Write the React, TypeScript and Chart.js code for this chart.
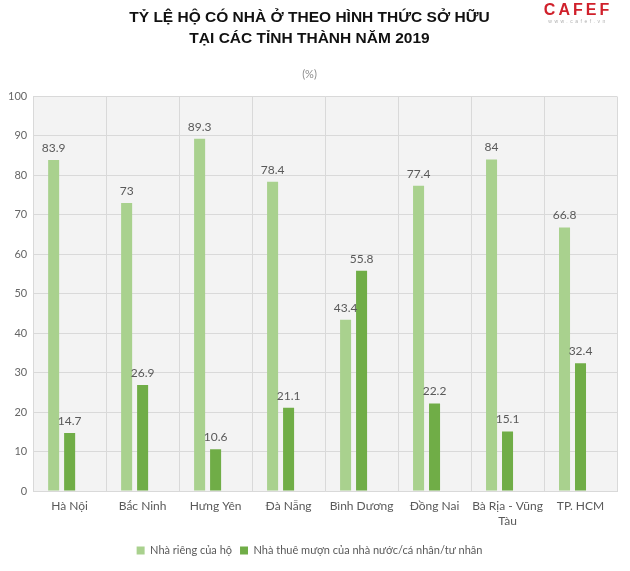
import React, { useEffect, useRef } from "react";
import { Chart, registerables } from "chart.js";

Chart.register(...registerables);

const categories: (string | string[])[] = [
  "Hà Nội",
  "Bắc Ninh",
  "Hưng Yên",
  "Đà Nẵng",
  "Bình Dương",
  "Đồng Nai",
  ["Bà Rịa - Vũng", "Tàu"],
  "TP. HCM",
];
const ownHouse = [83.9, 73, 89.3, 78.4, 43.4, 77.4, 84, 66.8];
const rented = [14.7, 26.9, 10.6, 21.1, 55.8, 22.2, 15.1, 32.4];
const emptySeries = [null, null, null, null, null, null, null, null];

const seriesNames = [
  "Nhà riêng của hộ",
  "Nhà thuê mượn của nhà nước/cá nhân/tư nhân",
];
const titleLines = [
  "TỶ LỆ HỘ CÓ NHÀ Ở THEO HÌNH THỨC SỞ HỮU",
  "TẠI CÁC TỈNH THÀNH NĂM 2019",
];
const unitLabel = "(%)";

const LIGHT = "#a9d18e";
const DARK = "#70ad47";
const GREY = "#595959";
const FONT = "Lato, 'Liberation Sans', sans-serif";

const plotBg = {
  id: "plotBg",
  beforeDraw(chart: any) {
    const { ctx, chartArea } = chart;
    if (!chartArea) return;
    ctx.save();
    ctx.fillStyle = "#f3f3f3";
    ctx.fillRect(
      chartArea.left,
      chartArea.top,
      chartArea.right - chartArea.left,
      chartArea.bottom - chartArea.top
    );
    ctx.restore();
  },
};

const valueLabels = {
  id: "valueLabels",
  afterDatasetsDraw(chart: any) {
    const { ctx } = chart;
    ctx.save();
    ctx.font = `12px ${FONT}`;
    ctx.fillStyle = GREY;
    ctx.textAlign = "center";
    ctx.textBaseline = "bottom";
    [0, 1].forEach((di) => {
      const meta = chart.getDatasetMeta(di);
      const data = chart.data.datasets[di].data;
      meta.data.forEach((bar: any, i: number) => {
        const v = data[i];
        if (v == null) return;
        ctx.fillText(String(v), bar.x, bar.y - 6);
      });
    });
    ctx.restore();
  },
};

export default function App() {
  const ref = useRef<HTMLCanvasElement>(null);

  useEffect(() => {
    if (!ref.current) return;
    const chart = new Chart(ref.current, {
      type: "bar",
      data: {
        labels: categories,
        datasets: [
          {
            label: seriesNames[0],
            data: ownHouse,
            backgroundColor: LIGHT,
            categoryPercentage: 0.657,
            barPercentage: 0.69,
          },
          {
            label: seriesNames[1],
            data: rented,
            backgroundColor: DARK,
            categoryPercentage: 0.657,
            barPercentage: 0.69,
          },
          {
            label: "",
            data: emptySeries as any,
            backgroundColor: "rgba(0,0,0,0)",
            categoryPercentage: 0.657,
            barPercentage: 0.69,
          },
        ],
      },
      options: {
        animation: false,
        responsive: false,
        maintainAspectRatio: false,
        layout: { padding: { left: 2, right: 13, top: 0, bottom: 5 } },
        plugins: {
          title: {
            display: true,
            text: titleLines,
            color: "#111111",
            font: { family: "'Liberation Sans', Arial, sans-serif", size: 15.5, weight: "bold", lineHeight: 1.3 },
            padding: { top: 8, bottom: 20 },
          },
          subtitle: {
            display: true,
            text: unitLabel,
            color: "#8c8c8c",
            font: { family: FONT, size: 11 },
            padding: { top: 0, bottom: 15 },
          },
          legend: {
            position: "bottom",
            labels: {
              boxWidth: 8,
              boxHeight: 8,
              color: GREY,
              font: { family: FONT, size: 11 },
              padding: 8,
              filter: (item: any) => item.text !== "",
            },
          },
          tooltip: { enabled: false },
        },
        scales: {
          x: {
            grid: { color: "#d9d9d9", drawTicks: false, offset: true },
            border: { color: "#d9d9d9" },
            ticks: {
              color: GREY,
              font: { family: FONT, size: 12, lineHeight: 1.25 },
              padding: 8,
              maxRotation: 0,
              autoSkip: false,
            },
          },
          y: {
            min: 0,
            max: 100,
            grid: { color: "#d9d9d9", drawTicks: false },
            border: { color: "#d9d9d9" },
            ticks: {
              stepSize: 10,
              color: "#666666",
              font: { family: FONT, size: 11 },
              padding: 6,
            },
          },
        },
      },
      plugins: [plotBg, valueLabels],
    });
    return () => chart.destroy();
  }, []);

  return (
    <div style={{ position: "absolute", left: 0, top: 0, width: 630, height: 571, background: "#ffffff" }}>
      <canvas ref={ref} width={630} height={571} style={{ width: 630, height: 571, display: "block" }} />
      <div
        style={{
          position: "absolute",
          left: 540,
          top: 2,
          width: 76,
          textAlign: "center",
          fontFamily: "'Liberation Sans', Arial, sans-serif",
          fontWeight: "bold",
          fontSize: 16,
          color: "#d0202b",
          letterSpacing: 3,
          lineHeight: "16px",
        }}
      >
        CAFEF
        <div style={{ fontSize: 5, color: "#b0b0b0", fontWeight: "normal", letterSpacing: 2.5, lineHeight: "6px" }}>
          www.cafef.vn
        </div>
      </div>
    </div>
  );
}
